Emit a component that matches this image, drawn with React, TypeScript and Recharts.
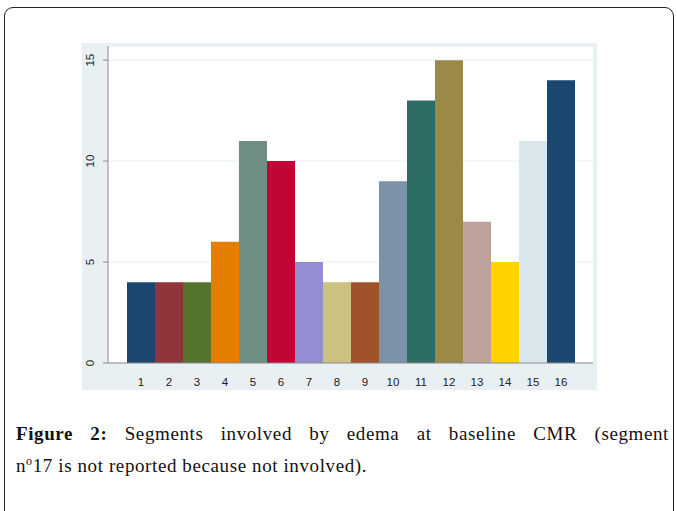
import React from "react";
import {
    BarChart,
    Bar,
    XAxis,
    YAxis,
    CartesianGrid,
    Cell,
} from "recharts";

const segments = ["1", "2", "3", "4", "5", "6", "7", "8", "9", "10", "11", "12", "13", "14", "15", "16"];
const edemaCounts = [4, 4, 4, 6, 11, 10, 5, 4, 4, 9, 13, 15, 7, 5, 11, 14];
const barColors = [
    "#1a476f", "#90353b", "#55752f", "#e37e00", "#6e8e84", "#c10534", "#938dd2", "#cac27e",
    "#a0522d", "#7b92a8", "#2d6d66", "#9c8847", "#bfa19c", "#ffd200", "#d9e6eb", "#1a476f",
];
const yTicks = [0, 5, 10, 15];

const data = segments.map((s, i) => ({ segment: s, count: edemaCounts[i] }));

const YTick = (props: any) => {
    const { x, y, payload } = props;
    return (
        <text
            transform={`translate(${x - 5}, ${y}) rotate(-90)`}
            textAnchor="middle"
            dy="0.35em"
            fontSize={11.5}
            fontFamily="Liberation Sans, Arial, sans-serif"
            fill="#222"
        >
            {payload.value}
        </text>
    );
};

export default function App() {
    return (
        <div style={{ position: "relative", width: 677, height: 511, overflow: "hidden", background: "#fff" }}>
            <style>{`body{margin:0}`}</style>
            <div
                style={{
                    position: "absolute",
                    left: 4,
                    top: 7,
                    width: 670,
                    height: 560,
                    border: "1.5px solid #222",
                    borderRadius: 9,
                    boxSizing: "border-box",
                }}
            />
            <div style={{ position: "absolute", left: 82, top: 43, width: 515, height: 347, background: "#e8f0f3" }}>
                <BarChart
                    width={515}
                    height={347}
                    data={data}
                    margin={{ top: 3, right: 4, bottom: 0, left: 0 }}
                    barCategoryGap={0}
                >
                    <CartesianGrid vertical={false} stroke="#e6eef1" fill="#ffffff" fillOpacity={1} />
                    <XAxis
                        dataKey="segment"
                        height={27}
                        padding={{ left: 19, right: 18 }}
                        tickLine={false}
                        tickMargin={9}
                        stroke="#8a8a8a"
                        tick={{ fontSize: 11.5, fill: "#222", fontFamily: "Liberation Sans, Arial, sans-serif" }}
                        interval={0}
                    />
                    <YAxis
                        width={26}
                        domain={[0, 15.7]}
                        ticks={yTicks}
                        tickSize={5}
                        tickMargin={8}
                        stroke="#8a8a8a"
                        tick={<YTick />}
                        allowDataOverflow
                    />
                    <Bar dataKey="count" isAnimationActive={false}>
                        {data.map((d, i) => (
                            <Cell key={`cell-${i}`} fill={barColors[i]} />
                        ))}
                    </Bar>
                </BarChart>
            </div>
            <div
                style={{
                    position: "absolute",
                    left: 16,
                    top: 418,
                    width: 653,
                    fontFamily: "Liberation Serif, serif",
                    fontSize: 19,
                    letterSpacing: 0.6,
                    lineHeight: "32px",
                    color: "#111",
                }}
            >
                <div style={{ textAlign: "justify", textAlignLast: "justify" }}>
                    <b>Figure 2:</b> Segments involved by edema at baseline CMR (segment
                </div>
                <div>
                    n<sup style={{ fontSize: 12, verticalAlign: "7px", lineHeight: 0 }}>o</sup>17 is not reported because not involved).
                </div>
            </div>
        </div>
    );
}
